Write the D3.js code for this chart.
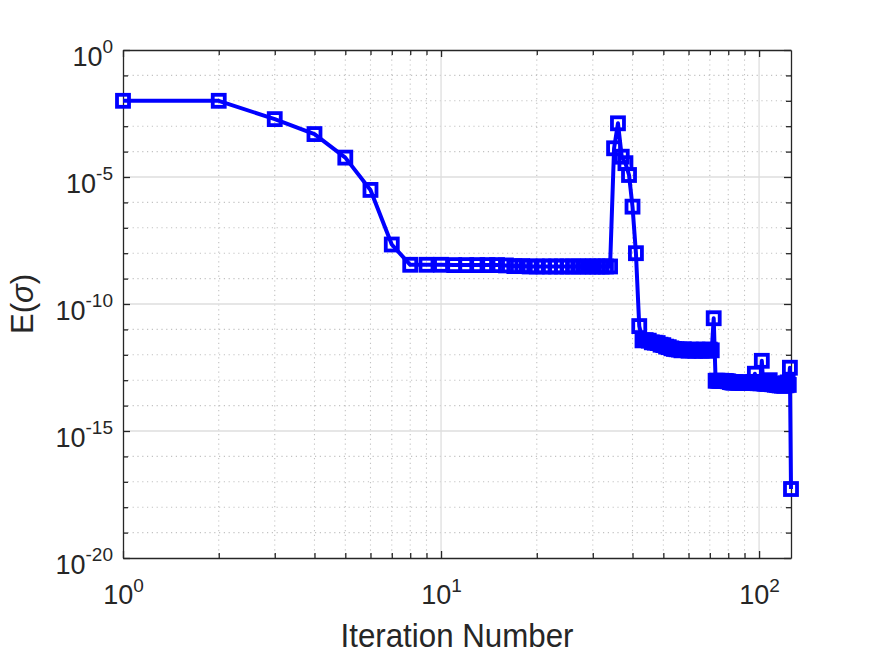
<!DOCTYPE html>
<html>
<head>
<meta charset="utf-8">
<script src="https://cdn.jsdelivr.net/npm/d3@7"></script>
<style>
  body { margin: 0; background: #fff; }
  text { font-family: "Liberation Sans", Arial, Helvetica, sans-serif; fill: #262626; }
</style>
</head>
<body>
<div id="chart"></div>
<script>
// Error per iteration
const errorValues = [
  1.0e-2, 1.0e-2, 1.9e-3, 4.9e-4, 5.8e-5, 3.1e-6, 2.2e-8, 3.5e-9, 3.5e-9, 3.5e-9,
  3.4e-9, 3.4e-9, 3.4e-9, 3.4e-9, 3.4e-9, 3.3e-9, 3.1e-9, 3.1e-9, 3.0e-9, 3.0e-9,
  3.0e-9, 3.0e-9, 3.0e-9, 3.0e-9, 3.0e-9, 3.0e-9, 3.0e-9, 3.0e-9, 3.0e-9, 3.0e-9,
  3.0e-9, 3.0e-9, 3.0e-9, 3.0e-9, 1.35e-4, 1.3e-3, 6.3e-5, 3.5e-5, 1.2e-5, 6.8e-7,
  1.0e-8, 1.35e-11, 3.7e-12, 3.8e-12, 3.6e-12, 3.1e-12, 3.0e-12, 2.9e-12, 2.5e-12, 2.4e-12,
  2.1e-12, 2.0e-12, 1.8e-12, 1.7e-12, 1.65e-12, 1.6e-12, 1.5e-12, 1.65e-12, 1.55e-12, 1.45e-12,
  1.6e-12, 1.5e-12, 1.45e-12, 1.6e-12, 1.5e-12, 1.45e-12, 1.6e-12, 1.5e-12, 1.45e-12, 1.6e-12,
  1.5e-12, 2.75e-11, 9.5e-14, 9.6e-14, 9.4e-14, 9.5e-14, 9.3e-14, 9.4e-14, 9.2e-14, 9.0e-14,
  8.4e-14, 8.2e-14, 8.0e-14, 8.3e-14, 8.1e-14, 7.9e-14, 8.2e-14, 8.0e-14, 7.8e-14, 8.1e-14,
  7.9e-14, 8.0e-14, 7.7e-14, 7.9e-14, 8.0e-14, 8.6e-14, 1.8e-13, 8.0e-14, 7.6e-14, 7.8e-14,
  7.5e-14, 5.8e-13, 7.6e-14, 7.3e-14, 7.5e-14, 7.2e-14, 7.4e-14, 1.0e-13, 7.2e-14, 6.9e-14,
  7.1e-14, 6.6e-14, 7.0e-14, 6.4e-14, 6.8e-14, 6.2e-14, 7.0e-14, 6.1e-14, 6.7e-14, 6.0e-14,
  7.6e-14, 6.3e-14, 8.2e-14, 6.5e-14, 3.1e-13, 5.2e-18
];
const iterations = errorValues.map((_, i) => i + 1);

// Axis limits and ticks
const xDomain = [1, 126];
const yDomain = [1e-20, 1];
const xMajorTicks = [1, 10, 100];
const xTickExponents = ["0", "1", "2"];
const xMinorTicks = [2, 3, 4, 5, 6, 7, 8, 9, 20, 30, 40, 50, 60, 70, 80, 90];
const yMajorTicks = [1e-20, 1e-15, 1e-10, 1e-5, 1];
const yTickExponents = ["-20", "-15", "-10", "-5", "0"];
const yMinorTicks = [1e-19, 1e-18, 1e-17, 1e-16, 1e-14, 1e-13, 1e-12, 1e-11,
  1e-9, 1e-8, 1e-7, 1e-6, 1e-4, 1e-3, 1e-2, 1e-1];

const xLabel = "Iteration Number";

// Dimensions
const width = 875;
const height = 656;
const margin = { top: 50, right: 84, bottom: 98, left: 123 };
const innerW = width - margin.left - margin.right;
const innerH = height - margin.top - margin.bottom;

const blue = "#0000ff";
const axisColor = "#262626";

const x = d3.scaleLog().domain(xDomain).range([0, innerW]);
const y = d3.scaleLog().domain(yDomain).range([innerH, 0]);

const svg = d3.select("#chart")
  .append("svg")
    .attr("width", width)
    .attr("height", height);

const g = svg.append("g")
  .attr("transform", `translate(${margin.left},${margin.top})`);

// Grid: minor dotted, major solid
const grid = g.append("g").attr("class", "grid");
grid.selectAll(".xminor")
  .data(xMinorTicks)
  .join("line")
    .attr("x1", d => x(d)).attr("x2", d => x(d))
    .attr("y1", 0).attr("y2", innerH)
    .attr("stroke", "#c2c2c2")
    .attr("stroke-width", 1.1)
    .attr("stroke-dasharray", "1.2,3.6");
grid.selectAll(".yminor")
  .data(yMinorTicks)
  .join("line")
    .attr("x1", 0).attr("x2", innerW)
    .attr("y1", d => y(d)).attr("y2", d => y(d))
    .attr("stroke", "#c2c2c2")
    .attr("stroke-width", 1.1)
    .attr("stroke-dasharray", "1.2,3.6");
grid.selectAll(".xmajor")
  .data(xMajorTicks.slice(1))
  .join("line")
    .attr("x1", d => x(d)).attr("x2", d => x(d))
    .attr("y1", 0).attr("y2", innerH)
    .attr("stroke", "#dedede")
    .attr("stroke-width", 1.3);
grid.selectAll(".ymajor")
  .data(yMajorTicks.slice(1, -1))
  .join("line")
    .attr("x1", 0).attr("x2", innerW)
    .attr("y1", d => y(d)).attr("y2", d => y(d))
    .attr("stroke", "#dedede")
    .attr("stroke-width", 1.3);

// Axes (ticks point inward, box on all four sides)
const styleAxis = sel => {
  sel.select(".domain").attr("stroke", axisColor).attr("stroke-width", 1.3);
  sel.selectAll(".tick line").attr("stroke", axisColor).attr("stroke-width", 1.3);
};

const addMinor = (axisFn, ticks, transform) => {
  g.append("g")
    .attr("transform", transform)
    .call(axisFn.tickValues(ticks).tickSize(-5).tickSizeOuter(0).tickFormat(""))
    .call(styleAxis)
    .call(a => a.select(".domain").remove());
};
addMinor(d3.axisBottom(x), xMinorTicks, `translate(0,${innerH})`);
addMinor(d3.axisTop(x), xMinorTicks, "translate(0,0)");
addMinor(d3.axisLeft(y), yMinorTicks, "translate(0,0)");
addMinor(d3.axisRight(y), yMinorTicks, `translate(${innerW},0)`);

const xAxis = g.append("g")
  .attr("transform", `translate(0,${innerH})`)
  .call(d3.axisBottom(x).tickValues(xMajorTicks).tickSize(-7).tickSizeOuter(0).tickFormat(() => "10"))
  .call(styleAxis);
xAxis.selectAll(".tick text")
  .attr("y", 46)
  .attr("dy", null)
  .attr("fill", axisColor)
  .style("font-size", "27px")
  .append("tspan")
    .attr("dy", -12)
    .style("font-size", "19px")
    .text((d, i) => xTickExponents[i]);

g.append("g")
  .call(d3.axisTop(x).tickValues(xMajorTicks).tickSize(-7).tickSizeOuter(0).tickFormat(""))
  .call(styleAxis);

const yAxis = g.append("g")
  .call(d3.axisLeft(y).tickValues(yMajorTicks).tickSize(-7).tickSizeOuter(0).tickFormat(() => "10"))
  .call(styleAxis);
yAxis.selectAll(".tick text")
  .attr("x", -10)
  .attr("y", 15)
  .attr("dy", null)
  .attr("fill", axisColor)
  .style("font-size", "27px")
  .append("tspan")
    .attr("dy", -13)
    .style("font-size", "19px")
    .text((d, i) => yTickExponents[i]);

g.append("g")
  .attr("transform", `translate(${innerW},0)`)
  .call(d3.axisRight(y).tickValues(yMajorTicks).tickSize(-7).tickSizeOuter(0).tickFormat(""))
  .call(styleAxis);

// Labels
svg.append("text")
  .attr("x", margin.left + innerW / 2)
  .attr("y", 647)
  .attr("text-anchor", "middle")
  .attr("textLength", 233)
  .attr("lengthAdjust", "spacingAndGlyphs")
  .style("font-size", "33px")
  .text(xLabel);

const yLab = svg.append("text")
  .attr("transform", `translate(33,${margin.top + innerH / 2}) rotate(-90)`)
  .attr("text-anchor", "middle")
  .style("font-size", "31px");
yLab.append("tspan").text("E(");
yLab.append("tspan").style("font-style", "italic").text("σ");
yLab.append("tspan").text(")");

// Data line and square markers
const points = iterations.map((it, i) => ({ it, v: errorValues[i] }));

g.append("path")
  .datum(points)
  .attr("fill", "none")
  .attr("stroke", blue)
  .attr("stroke-width", 4)
  .attr("stroke-linejoin", "round")
  .attr("d", d3.line().x(d => x(d.it)).y(d => y(d.v)));

const s = 12;
g.selectAll(".marker")
  .data(points)
  .join("rect")
    .attr("class", "marker")
    .attr("x", d => x(d.it) - s / 2)
    .attr("y", d => y(d.v) - s / 2)
    .attr("width", s)
    .attr("height", s)
    .attr("fill", "none")
    .attr("stroke", blue)
    .attr("stroke-width", 3.8);
</script>
</body>
</html>
